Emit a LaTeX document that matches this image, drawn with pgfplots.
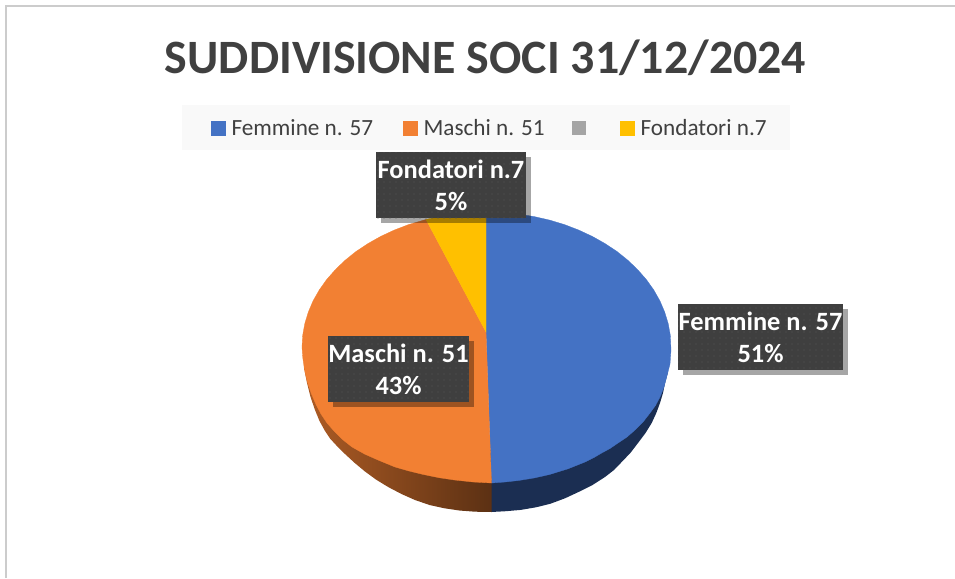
\documentclass[border=0pt]{standalone}
\usepackage{fontspec}
\setmainfont{Carlito}
\usepackage{pgfplots}
\pgfplotsset{compat=1.18}
\usetikzlibrary{patterns.meta}
\definecolor{cblue}{HTML}{4472C4}
\definecolor{corange}{HTML}{F28033}
\definecolor{cgray}{HTML}{A5A5A5}
\definecolor{cyellow}{HTML}{FFC000}
\definecolor{cwallblue}{HTML}{1B2E52}
\definecolor{ctext}{HTML}{404040}
\definecolor{cbox}{HTML}{3F3F3F}
\definecolor{cdot}{HTML}{555555}
\newcommand{\labelbox}[5]{%
  \fill[black,opacity=.35] (axis cs:#1+5,#2+5) rectangle (axis cs:#3+5,#4+5);
  \fill[cbox] (axis cs:#1,#2) rectangle (axis cs:#3,#4);
  \fill[pattern={Dots[radius=0.7pt,distance=6pt]},pattern color=cdot] (axis cs:#1,#2) rectangle (axis cs:#3,#4);
  \node[align=center,text=white,inner sep=0pt,font=\bfseries\fontsize{26.4}{32}\selectfont] at (axis cs:{(#1+#3)/2},{(#2+#4)/2}) {#5};
}
\begin{document}
\begin{tikzpicture}
\path[use as bounding box] (0,0) rectangle (955pt,578pt);
\begin{axis}[
  at={(0,0)},anchor=south west,
  scale only axis,width=955pt,height=578pt,
  xmin=0,xmax=955,ymin=0,ymax=578,y dir=reverse,
  hide axis,clip=false,
  legend columns=4,
  legend image code/.code={\fill[#1] (0pt,-7pt) rectangle (14pt,7pt);},
  legend style={
    at={(axis cs:211,128)},anchor=west,
    draw=none,fill=none,inner sep=0pt,
    font=\fontsize{23.2}{28}\selectfont,text=ctext,
    nodes={inner sep=0pt},
    /tikz/every odd column/.append style={column sep=6pt},
    /tikz/column 2/.style={column sep=30pt},
    /tikz/column 4/.style={column sep=27.6pt},
    /tikz/column 6/.style={column sep=27pt},
    /tikz/column 7/.style={column sep=7pt},
  },
]
% frame and legend ground
\addplot[forget plot,draw=black!20,line width=2pt] coordinates {(6,578) (6,6) (955,6)};
\addplot[forget plot,draw=none,fill=black!2.5] coordinates {(182,105) (790,105) (790,150) (182,150)} -- cycle;
% side walls
\addplot[forget plot,draw=none,left color=cwallblue,right color=cwallblue] coordinates {
 (491,450) (491,512) (506,511.2) (520.7,509.9) (536,507.3) (550.5,503.7) (565,498.3) (578.5,492) (592.5,485)
 (605,477) (614,470) (621.7,462) (630.5,452.8) (638,443) (645.5,433) (651.7,423) (656.3,413) (660,403)
 (663,393) (665,383) (668,372)} -- cycle;
\addplot[forget plot,draw=none,left color=corange!72!black,right color=corange!38!black] coordinates {
 (491.5,450) (304,362) (305,373) (307,383) (310.5,397) (315,410) (319.5,421) (325,431) (330,438.5) (336,445)
 (345,454) (354.4,462.7) (365,471.5) (376.2,479.7) (388.5,487.2) (401.5,494) (415,500) (429.5,505)
 (444,508.2) (459.3,510.5) (475,511.7) (491.5,512)} -- cycle;
% top face
\addplot[draw=cblue,fill=cblue,line width=.3pt] coordinates {
 (486,332) (486,212) (502.6,212.5) (518.5,214.1) (534.3,216.6) (549.6,220.1) (564.5,224.6) (578.8,230.1)
 (592.3,236.4) (605.1,243.6) (617,251.5) (627.8,260.2) (637.6,269.6) (646.3,279.5) (653.7,289.9)
 (659.9,300.8) (664.7,312.1) (668.2,323.6) (670.3,335.2) (671,350) (670,364) (666.7,377) (664,387) (660,397)
 (655.5,405.5) (650,413) (643,422) (635,430) (627,437) (618,443) (610,448.5) (601.7,453) (593.5,457.8) (585,462)
 (568,468.8) (549.6,474.5) (534,478) (518.5,480.5) (505,482) (491.5,483)} -- cycle;
\addlegendentry{Femmine n. 57}
\addplot[draw=corange,fill=corange,line width=.3pt] coordinates {
 (486,332) (491.5,483) (473,482) (454.5,480) (439,477.7) (423.4,474.5) (409,471) (395,467) (378,460)
 (364.5,454) (352,447) (342.5,439.5) (334,431) (327,423) (321,414) (316,404.5) (311.5,394) (307.5,382.5)
 (304.5,370) (302.8,358) (302,347) (302.7,335.2) (304.8,323.6) (308.3,312.1) (313.1,300.8) (319.3,289.9)
 (326.7,279.5) (335.4,269.6) (345.2,260.2) (356,251.5) (367.9,243.6) (380.7,236.4) (394.2,230.1)
 (408.5,224.6) (426,219.5)} -- cycle;
\addlegendentry{Maschi n. 51}
\addplot[draw=none,fill=cgray] coordinates {(486,332)};
\addlegendentry{\strut}
\addplot[draw=cyellow,fill=cyellow,line width=.3pt] coordinates {
 (486,332) (426,219.5) (438.7,216.6) (454.5,214.1) (470.4,212.5) (486,212)} -- cycle;
\addlegendentry{Fondatori n.7}
\node[text=ctext,inner sep=0pt,font=\bfseries\fontsize{47.9}{56}\selectfont] at (axis cs:485.5,58) {SUDDIVISIONE SOCI 31/12/2024};
\labelbox{678}{304}{843}{370}{Femmine n. 57\\51\%}
\labelbox{328}{336}{469}{402}{Maschi n. 51\\43\%}
\labelbox{376}{152}{526}{218}{Fondatori n.7\\5\%}
\end{axis}
\end{tikzpicture}
\end{document}
